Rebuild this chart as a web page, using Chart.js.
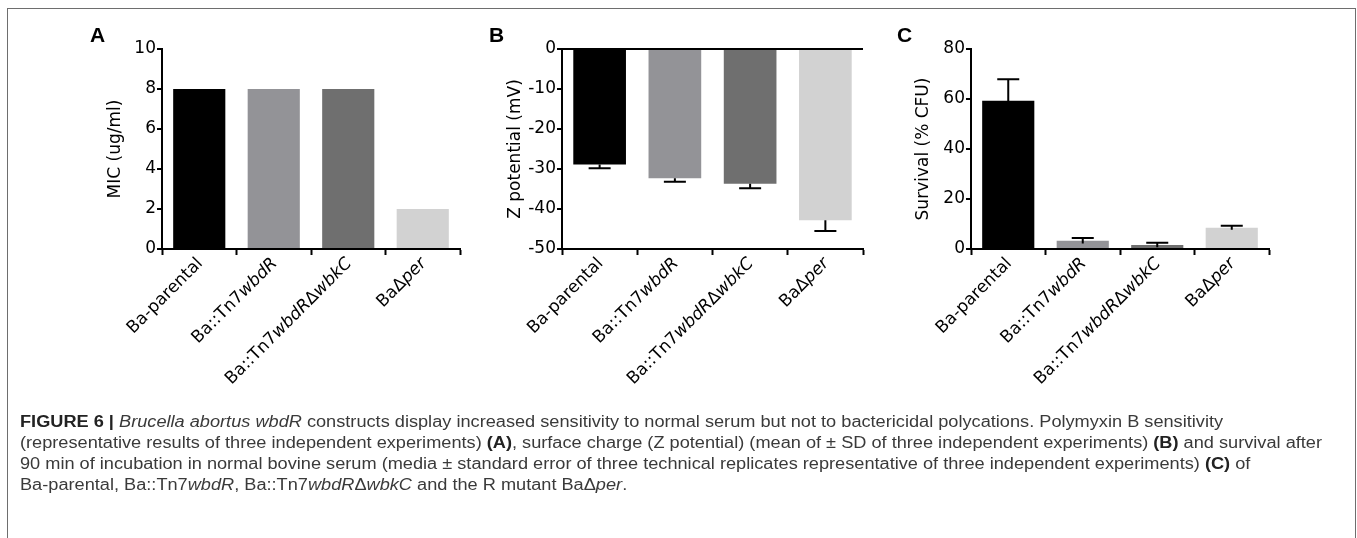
<!DOCTYPE html>
<html><head><meta charset="utf-8">
<script src="https://cdn.jsdelivr.net/npm/chart.js@4.4.1/dist/chart.umd.min.js"></script>
<style>
html,body{margin:0;padding:0;background:#fff;}
#page{position:relative;width:1357px;height:538px;overflow:hidden;background:#fff;}
#frame{position:absolute;left:7px;top:8px;width:1349px;height:560px;border:1.5px solid #6e6e6e;border-bottom:none;box-sizing:border-box;}
canvas{position:absolute;top:0;}
.letter{position:absolute;font-family:"Liberation Sans",Arial,sans-serif;font-weight:bold;font-size:21px;line-height:21px;color:#000;top:24px;}
#caption{position:absolute;left:20px;top:411px;font-family:"Liberation Sans",Arial,sans-serif;font-size:16px;line-height:21px;color:#3a3a3a;white-space:nowrap;transform-origin:0 0;}
#caption div{display:block;}
#caption span.ln{display:inline-block;}
#caption b{color:#222;}
</style></head>
<body>
<div id="page">
  <div id="frame"></div>
  <canvas id="cA" width="410" height="430" style="left:60px"></canvas>
  <canvas id="cB" width="410" height="430" style="left:470px"></canvas>
  <canvas id="cC" width="410" height="430" style="left:880px"></canvas>
  <div class="letter" style="left:90px">A</div>
  <div class="letter" style="left:489px">B</div>
  <div class="letter" style="left:897px">C</div>
  <div id="caption">
    <div><span class="ln"><b>FIGURE 6 |</b> <i>Brucella abortus wbdR</i> constructs display increased sensitivity to normal serum but not to bactericidal polycations. Polymyxin B sensitivity</span></div>
    <div><span class="ln" id="line2">(representative results of three independent experiments) <b>(A)</b>, surface charge (Z potential) (mean of ± SD of three independent experiments) <b>(B)</b> and survival after</span></div>
    <div><span class="ln">90 min of incubation in normal bovine serum (media ± standard error of three technical replicates representative of three independent experiments) <b>(C)</b> of</span></div>
    <div><span class="ln">Ba-parental, Ba::Tn7<i>wbdR</i>, Ba::Tn7<i>wbdR</i>Δ<i>wbkC</i> and the R mutant BaΔ<i>per</i>.</span></div>
  </div>
</div>
<script>
// ---- data ----
const categories = ['Ba-parental', 'Ba::Tn7wbdR', 'Ba::Tn7wbdRΔwbkC', 'BaΔper'];
const barColors = ['#000000', '#939397', '#6f6f6f', '#d2d2d2'];
const micValues = [8, 8, 8, 2];
const zValues = [-28.9, -32.3, -33.7, -42.8];
const zErrors = [0.9, 0.9, 1.1, 2.7];
const survivalValues = [59.3, 3.3, 1.6, 8.5];
const survivalErrors = [8.6, 1.1, 0.9, 0.8];
const micTicks = [0, 2, 4, 6, 8, 10];
const zTicks = [-50, -40, -30, -20, -10, 0];
const survivalTicks = [0, 20, 40, 60, 80];
const italicGenes = /(wbdR|wbkC|per)/;

// fit caption width (horizontal scale of the caption block)
(function fitCaption() {
  const cap = document.getElementById('caption');
  const w = document.getElementById('line2').getBoundingClientRect().width;
  if (w > 0) cap.style.transform = 'scaleX(' + (1302 / w) + ')';
})();

const FAMILY = '"DejaVu Sans", sans-serif';
const FONT = {family: FAMILY, size: 17};

const errorBarPlugin = {
  id: 'errorBars',
  afterDatasetsDraw(chart, args, opts) {
    const errs = opts.errors;
    if (!errs) return;
    const meta = chart.getDatasetMeta(0);
    const ys = chart.scales.y;
    const ctx = chart.ctx;
    ctx.save();
    ctx.strokeStyle = '#000';
    ctx.lineWidth = 2;
    meta.data.forEach((bar, i) => {
      const v = chart.data.datasets[0].data[i];
      const dir = v < 0 ? -1 : 1;
      const yEnd = ys.getPixelForValue(v + dir * errs[i]);
      const yStart = opts.both ? ys.getPixelForValue(v - dir * errs[i]) : ys.getPixelForValue(v);
      ctx.beginPath();
      ctx.moveTo(bar.x, yStart);
      ctx.lineTo(bar.x, yEnd);
      ctx.moveTo(bar.x - opts.cap, yEnd);
      ctx.lineTo(bar.x + opts.cap, yEnd);
      ctx.stroke();
    });
    ctx.restore();
  }
};

// category labels with italic gene names, rotated 45°, anchored at the axis ticks
const richLabelPlugin = {
  id: 'richLabels',
  afterDraw(chart) {
    const sc = chart.scales.x;
    const ctx = chart.ctx;
    const y0 = sc.top + 6 + 6;
    ctx.save();
    ctx.fillStyle = '#000';
    ctx.textBaseline = 'middle';
    ctx.textAlign = 'left';
    chart.data.labels.forEach((lab, i) => {
      const parts = lab.split(italicGenes).filter(s => s.length).map(s => ({text: s, italic: italicGenes.test(s)}));
      const fonts = parts.map(p => (p.italic ? 'italic ' : '') + FONT.size + 'px ' + FAMILY);
      let total = 0;
      const widths = parts.map((p, k) => { ctx.font = fonts[k]; const w = ctx.measureText(p.text).width; total += w; return w; });
      const x = sc.getPixelForTick(i) + 1;
      ctx.save();
      ctx.translate(x, y0);
      ctx.rotate(-Math.PI / 4);
      let cx = -total;
      parts.forEach((p, k) => { ctx.font = fonts[k]; ctx.fillText(p.text, cx, 0); cx += widths[k]; });
      ctx.restore();
    });
    ctx.restore();
  }
};

function makeChart(id, values, ticksArr, min, max, title, yWidth, titlePad, padRight, errOpts, zeroTop) {
  new Chart(document.getElementById(id), {
    type: 'bar',
    data: {
      labels: categories,
      datasets: [{
        data: values,
        backgroundColor: barColors,
        borderWidth: 0,
        barPercentage: 0.7,
        categoryPercentage: 1.0
      }]
    },
    plugins: [errorBarPlugin, richLabelPlugin],
    options: {
      responsive: false,
      animation: false,
      devicePixelRatio: 1,
      layout: {padding: {left: 0, right: padRight, top: 49, bottom: 0}},
      plugins: {
        legend: {display: false},
        tooltip: {enabled: false},
        errorBars: errOpts
      },
      scales: {
        x: {
          afterFit: s => { s.height = 181; },
          border: {display: true, color: '#000', width: 2},
          grid: {display: true, drawOnChartArea: false, drawTicks: true, tickLength: 6, tickColor: '#000', tickWidth: 2},
          ticks: {display: false, color: '#000', font: FONT, minRotation: 45, maxRotation: 45, autoSkip: false, padding: 2}
        },
        y: {
          min: min, max: max,
          afterBuildTicks: s => { s.ticks = ticksArr.map(v => ({value: v})); },
          afterFit: s => { s.width = yWidth; },
          border: {display: true, color: '#000', width: 2},
          grid: {
            display: true,
            drawOnChartArea: !!zeroTop,
            color: c => (c.tick && c.tick.value === 0) ? '#000' : 'rgba(0,0,0,0)',
            lineWidth: 2,
            drawTicks: true, tickLength: 5, tickColor: '#000', tickWidth: 2
          },
          ticks: {color: '#000', font: FONT, padding: 1},
          title: {display: true, text: title, color: '#000', font: FONT, padding: {top: titlePad, bottom: 0}}
        }
      }
    }
  });
}

makeChart('cA', micValues, micTicks, 0, 10, 'MIC (ug/ml)', 102, 45, 10, {}, false);
makeChart('cB', zValues, zTicks, -50, 0, 'Z potential (mV)', 92, 35, 17, {errors: zErrors, cap: 11, both: false}, true);
makeChart('cC', survivalValues, survivalTicks, 0, 80, 'Survival (% CFU)', 91, 33, 21, {errors: survivalErrors, cap: 11, both: true}, false);
</script>
</body></html>
